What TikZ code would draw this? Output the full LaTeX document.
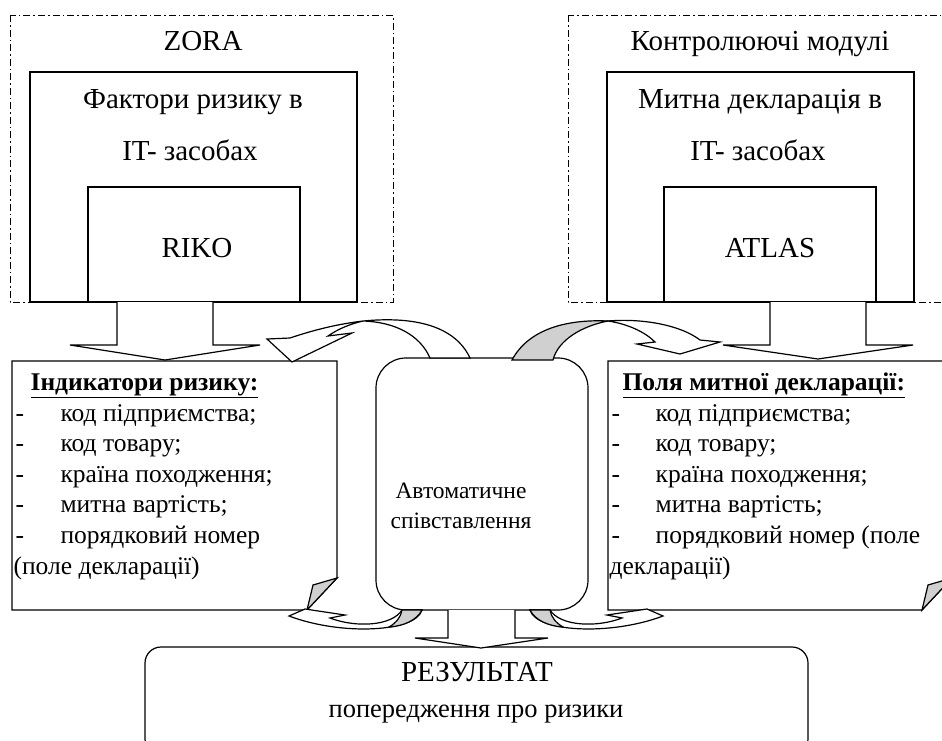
\documentclass[tikz,border=0pt]{standalone}
\usepackage{fontspec}
\setmainfont{Liberation Serif}
\definecolor{flapgray}{RGB}{208,208,208}
\begin{document}
\begin{tikzpicture}[x=1pt,y=-1pt,
  line width=1.2pt, line join=miter,
  txt/.style={inner sep=0pt, font=\fontsize{29}{33}\selectfont},
  note/.style={inner sep=0pt, anchor=base west, font=\fontsize{25.5}{30}\selectfont},
  ctxt/.style={inner sep=0pt, anchor=base, font=\fontsize{23.5}{28}\selectfont},
  dashbox/.style={line width=1pt, dash pattern=on 7pt off 3pt on 1.5pt off 3pt},
  boxline/.style={draw=black, fill=white},
  flap/.style={draw=black, fill=flapgray}]
\useasboundingbox (0,0) rectangle (942,740);

% dash-dot frames
\draw[dashbox] (10,15) rectangle (393,302);
\draw[dashbox] (568,15) rectangle (980,302);

% left module boxes
\draw[boxline] (30,72) rectangle (357,302);
\draw[boxline] (88,187) rectangle (300,302);
% right module boxes
\draw[boxline] (607,72) rectangle (914,302);
\draw[boxline] (664,187) rectangle (876,302);

% block arrows down
\draw[boxline] (117,302) -- (117,345) -- (70,345) -- (165,360) -- (260,345) -- (213,345) -- (213,302);
\draw[boxline] (770,302) -- (770,345) -- (723,345) -- (818,359) -- (913,345) -- (866,345) -- (866,302);

% note boxes with folded corners
\draw[boxline] (12,361) -- (337,361) -- (337,578) -- (307,610) -- (12,610) -- cycle;
\draw[flap] (307,610) -- (313,585) -- (337,578) -- cycle;
\draw[boxline] (608,361) -- (952,361) -- (952,578) -- (922,610) -- (608,610) -- cycle;
\draw[flap] (922,610) -- (928,585) -- (952,578) -- cycle;

% centre rounded box
\draw[boxline, rounded corners=30pt] (376,358) rectangle (588,610);

% result box
\draw[boxline, rounded corners=16pt] (145,647) rectangle (808,755);

% block arrow centre -> result
\draw[boxline] (448,610) -- (448,638) -- (415,638) -- (481,648) -- (548,638) -- (515,638) -- (515,610);

% top-left curved arrow
\draw[boxline] (470,358) .. controls (455,326) and (415,316) .. (363,321)
  .. controls (330,325) and (305,333) .. (290,338) -- (267,339) -- (292,362) -- (352,333) -- (328,336)
  .. controls (338,329) and (350,324) .. (363,321)
  .. controls (395,322) and (420,335) .. (430,358) -- cycle;

% top-right curved arrow
\draw[flap] (512,360) .. controls (528,330) and (565,319) .. (608,321)
  .. controls (582,326) and (558,340) .. (553,360) -- cycle;
\draw[boxline] (608,321) .. controls (645,318) and (682,326) .. (700,340) -- (720,342) -- (680,354)
  -- (637,344) -- (655,342) .. controls (645,332) and (628,324) .. (608,321) -- cycle;

% bottom-right curved arrow
\draw[boxline] (530,610) .. controls (536,632) and (610,636) .. (663,616) -- (647,609) -- (607,615)
  -- (622,618) .. controls (596,628) and (560,626) .. (550,610) -- cycle;
\draw[flap] (530,610) .. controls (535,620) and (548,626) .. (563,627)
  .. controls (556,623) and (551,617) .. (550,610) -- cycle;
% bottom-left curved arrow (mirror)
\begin{scope}[xshift=952pt, xscale=-1]
\draw[boxline] (530,610) .. controls (536,632) and (610,636) .. (663,616) -- (647,609) -- (607,615)
  -- (622,618) .. controls (596,628) and (560,626) .. (550,610) -- cycle;
\draw[flap] (530,610) .. controls (535,620) and (548,626) .. (563,627)
  .. controls (556,623) and (551,617) .. (550,610) -- cycle;
\end{scope}

% texts top
\node[txt, anchor=base] (zora) at (203,50) {ZORA};
\node[txt, anchor=base] (fakt) at (193,108) {Фактори ризику в};
\node[txt, anchor=base] (itl) at (190,160) {IT- засобах};
\node[txt, anchor=base] (riko) at (197,257) {RIKO};
\node[txt, anchor=base] (kontr) at (760,50) {Контролюючі модулі};
\node[txt, anchor=base] (mytna) at (760,108) {Митна декларація в};
\node[txt, anchor=base] (itr) at (758,160) {IT- засобах};
\node[txt, anchor=base] (atlas) at (770,257) {ATLAS};

% left note
\node[note] (lt) at (30,390) {\underline{\textbf{Індикатори ризику:}}};
\node[note] (ld1) at (15,421) {-};
\node[note] (l1) at (60,421) {код підприємства;};
\node[note] (ld2) at (15,451) {-};
\node[note] (l2) at (60,451) {код товару;};
\node[note] (ld3) at (15,482) {-};
\node[note] (l3) at (60,482) {країна походження;};
\node[note] (ld4) at (15,512) {-};
\node[note] (l4) at (60,512) {митна вартість;};
\node[note] (ld5) at (15,543) {-};
\node[note] (l5) at (60,543) {порядковий номер};
\node[note] (l6) at (13,574) {(поле декларації)};

% right note
\node[note] (rt) at (622,390) {\underline{\textbf{Поля митної декларації:}}};
\node[note] (rd1) at (611,421) {-};
\node[note] (r1) at (655,421) {код підприємства;};
\node[note] (rd2) at (611,451) {-};
\node[note] (r2) at (655,451) {код товару;};
\node[note] (rd3) at (611,482) {-};
\node[note] (r3) at (655,482) {країна походження;};
\node[note] (rd4) at (611,512) {-};
\node[note] (r4) at (655,512) {митна вартість;};
\node[note] (rd5) at (611,543) {-};
\node[note] (r5) at (655,543) {порядковий номер (поле};
\node[note] (r6) at (609,574) {декларації)};

% centre
\node[ctxt] (auto1) at (461,498) {Автоматичне};
\node[ctxt] (auto2) at (461,528) {співставлення};

% result
\node[txt, anchor=base] (res1) at (477,681) {РЕЗУЛЬТАТ};
\node[ctxt, font=\fontsize{26.5}{30}\selectfont] (res2) at (476,717) {попередження про ризики};
\end{tikzpicture}
\end{document}
